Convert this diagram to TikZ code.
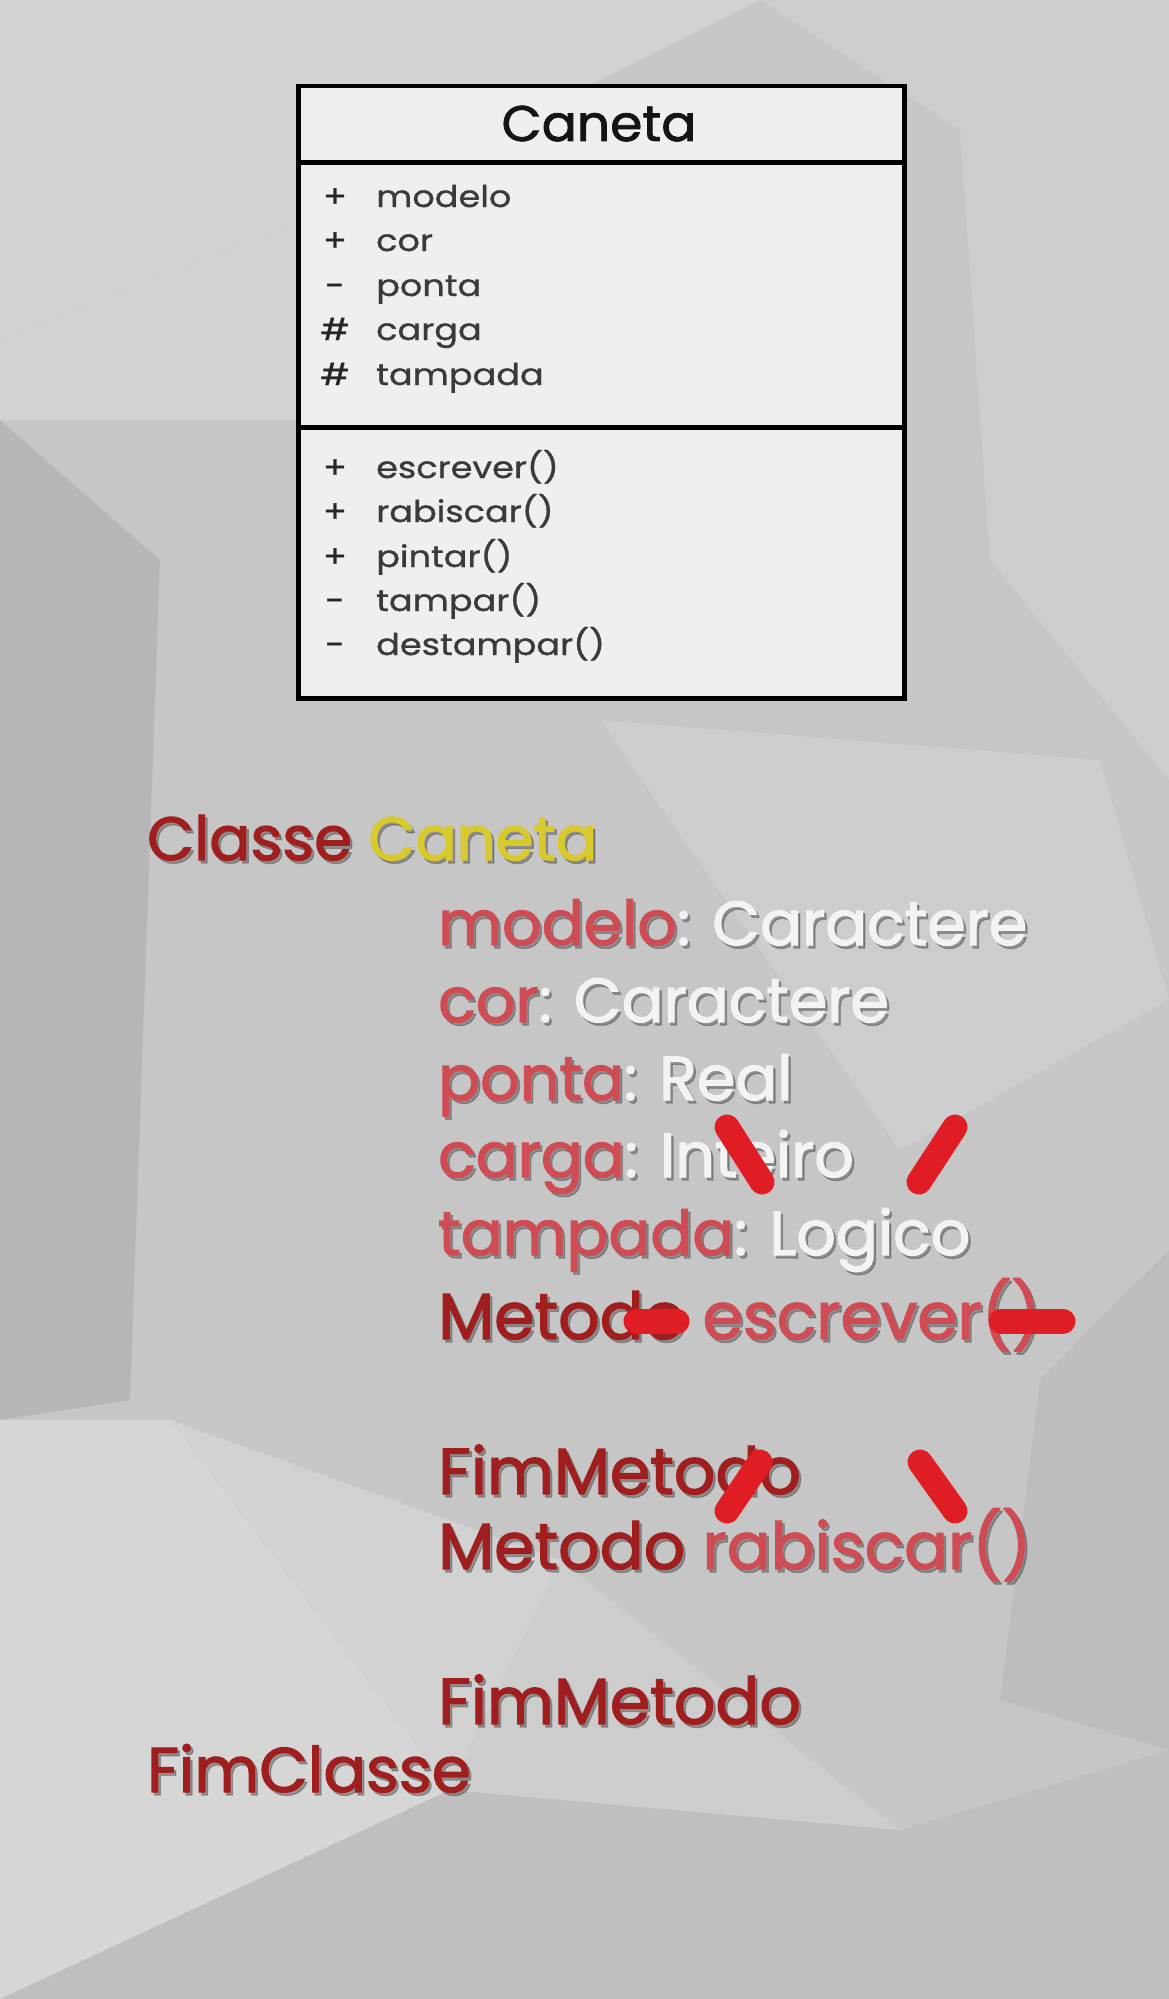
\documentclass[tikz,border=0pt]{standalone}
\usepackage{fontspec}
\setmainfont{Poppins}
\newfontfamily\lowf{Poppins}[FakeBold=2]
\newfontfamily\boxf{Poppins}[FakeStretch=1.17,FakeBold=1.0]
\newfontfamily\titfont{Poppins}[FakeStretch=1.04,FakeBold=1.6]
\definecolor{bgbase}{HTML}{C6C6C6}
\definecolor{boxfill}{HTML}{EFEFEF}
\definecolor{boxtxt}{HTML}{3A3A3A}
\definecolor{dred}{HTML}{A01E1E}
\definecolor{pinkred}{HTML}{CF4C54}
\definecolor{yel}{HTML}{D8C92C}
\definecolor{wht}{HTML}{F3F3F3}
\definecolor{shc}{HTML}{4A4A4A}
\definecolor{mk}{HTML}{E01C24}
\definecolor{bgA}{HTML}{D2D2D2}
\definecolor{bgB}{HTML}{CDCDCD}
\definecolor{bgC}{HTML}{BDBDBD}
\definecolor{bgD}{HTML}{B6B6B6}
\definecolor{bgE}{HTML}{D6D6D6}
\definecolor{bgF}{HTML}{BFBFBF}
\newif\ifshad
\newcommand\tc[2]{\ifshad\textcolor{shc}{#2}\else\textcolor{#1}{#2}\fi}
\newcommand\lowline[5]{%
  \node[#2, shadowsty] at (#3+2.5,#4+3) {#5};
  \node[#2] (#1) at (#3,#4) {#5};}
\tikzset{
  comp/.style={draw=black, line width=4.5pt, fill=boxfill, minimum width=606pt, inner sep=0pt, anchor=north west},
  boxt/.style={font=\boxf\fontsize{30}{30}\selectfont, text=boxtxt, anchor=base west, inner sep=0pt},
  sgn/.style={font=\boxf\fontsize{30}{30}\selectfont, text=black!85, anchor=base, inner sep=0pt},
  lowsm/.style={font=\lowf\fontsize{62}{62}\selectfont, anchor=base west, inner sep=0pt},
  lowbig/.style={font=\lowf\fontsize{65}{65}\selectfont, anchor=base west, inner sep=0pt},
  lowcls/.style={font=\lowf\fontsize{61}{61}\selectfont, anchor=base west, inner sep=0pt},
  lowend/.style={font=\lowf\fontsize{63}{63}\selectfont, anchor=base west, inner sep=0pt},
  shadowsty/.style={execute at begin node=\shadtrue, text opacity=0.45},
  redmark/.style={draw=mk, line width=25pt, line cap=round},
}
\begin{document}
\begin{tikzpicture}[x=1pt,y=-1pt]
\useasboundingbox (0,0) rectangle (1169,1999);
% background
\fill[bgbase] (0,0) rectangle (1169,1999);
\fill[bgA] (0,0) -- (760,0) -- (380,190) -- (0,340) -- cycle;
\fill[bgB] (760,0) -- (1169,0) -- (1169,180) -- (960,130) -- cycle;
\fill[bgB] (960,130) -- (1169,180) -- (1169,780) -- (990,560) -- cycle;
\fill[bgD] (0,420) -- (160,560) -- (130,1400) -- (0,1420) -- cycle;
\fill[bgA] (0,340) -- (380,190) -- (296,420) -- (0,420) -- cycle;
\fill[bgB] (600,720) -- (1100,760) -- (1169,1000) -- (900,1150) -- cycle;
\fill[bgE] (0,1420) -- (170,1420) -- (450,1790) -- (0,1999) -- cycle;
\fill[bgA] (170,1420) -- (560,1560) -- (450,1790) -- cycle;
\fill[bgF] (0,1999) -- (450,1790) -- (900,1830) -- (1169,1750) -- (1169,1999) -- cycle;
\fill[bgC] (1040,1380) -- (1169,1250) -- (1169,1750) -- (1000,1700) -- cycle;
\fill[bgB] (560,1560) -- (900,1830) -- (450,1790) -- cycle;
% UML box
\node[comp, minimum height=76pt] (title) at (296,84) {};
\node[comp, minimum height=265pt] (attrs) at (296,160) {};
\node[comp, minimum height=271pt] (meths) at (296,425) {};
\node[font=\titfont\fontsize{50}{50}\selectfont, text=black!92, anchor=base, inner sep=0pt] (tname) at (599,141) {Caneta};
% attributes
\node[sgn] (s1) at (335,207) {+};   \node[boxt] (a1) at (376,207) {modelo};
\node[sgn] (s2) at (335,251) {+};   \node[boxt] (a2) at (376,251) {cor};
\node[sgn] (s3) at (335,296) {-};   \node[boxt] (a3) at (376,296) {ponta};
\node[sgn] (s4) at (335,340) {\#};  \node[boxt] (a4) at (376,340) {carga};
\node[sgn] (s5) at (335,385) {\#};  \node[boxt] (a5) at (376,385) {tampada};
% methods
\node[sgn] (m1s) at (335,478) {+};  \node[boxt] (m1) at (376,478) {escrever()};
\node[sgn] (m2s) at (335,522) {+};  \node[boxt] (m2) at (376,522) {rabiscar()};
\node[sgn] (m3s) at (335,567) {+};  \node[boxt] (m3) at (376,567) {pintar()};
\node[sgn] (m4s) at (335,611) {-};  \node[boxt] (m4) at (376,611) {tampar()};
\node[sgn] (m5s) at (335,655) {-};  \node[boxt] (m5) at (376,655) {destampar()};
% pseudocode
\lowline{l0}{lowcls}{147}{860}{\tc{dred}{Classe} \tc{yel}{Caneta}}
\lowline{l1}{lowsm}{438}{945}{\tc{pinkred}{modelo}\tc{wht}{: Caractere}}
\lowline{l2}{lowsm}{438}{1022}{\tc{pinkred}{cor}\tc{wht}{: Caractere}}
\lowline{l3}{lowsm}{438}{1100}{\tc{pinkred}{ponta}\tc{wht}{: Real}}
\lowline{l4}{lowsm}{438}{1177}{\tc{pinkred}{carga}\tc{wht}{: Inteiro}}
\lowline{l5}{lowsm}{438}{1255}{\tc{pinkred}{tampada}\tc{wht}{: Logico}}
\lowline{l6}{lowbig}{438}{1339}{\tc{dred}{Metodo} \tc{pinkred}{escrever()}}
\lowline{l7}{lowbig}{438}{1494}{\tc{dred}{FimMetodo}}
\lowline{l8}{lowbig}{438}{1569}{\tc{dred}{Metodo} \tc{pinkred}{rabiscar()}}
\lowline{l9}{lowbig}{438}{1724}{\tc{dred}{FimMetodo}}
\lowline{l10}{lowend}{147}{1792}{\tc{dred}{FimClasse}}
% red marks
\draw[redmark] (727,1127) -- (762,1182);
\draw[redmark] (955,1127) -- (919,1182);
\draw[redmark] (636,1321) -- (677,1321);
\draw[redmark] (1001,1321) -- (1063,1321);
\draw[redmark] (760,1462) -- (727,1511);
\draw[redmark] (920,1462) -- (955,1511);
\end{tikzpicture}
\end{document}
